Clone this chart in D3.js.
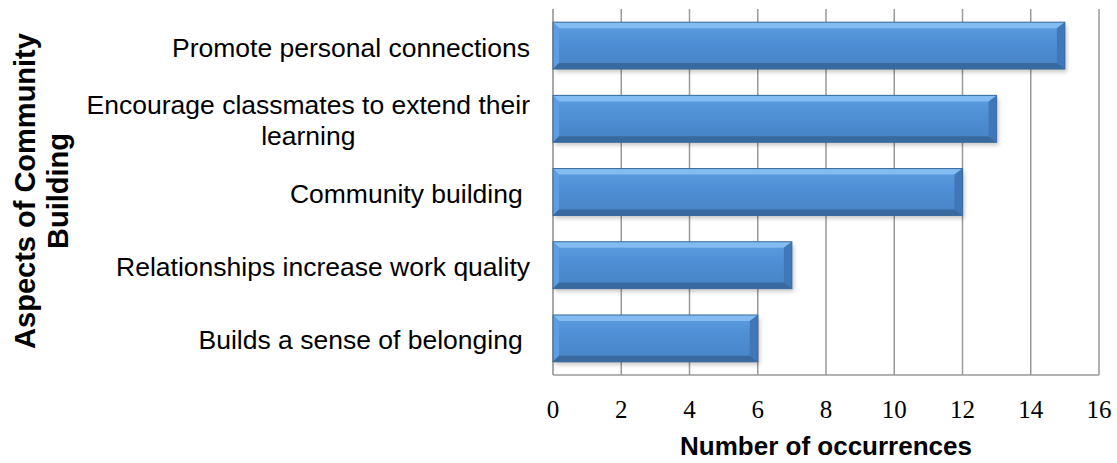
<!DOCTYPE html>
<html>
<head>
<meta charset="utf-8">
<script src="https://cdn.jsdelivr.net/npm/d3@7"></script>
<style>
  body { margin: 0; background: #fff; }
  svg { display: block; }
</style>
</head>
<body>
<svg id="chart" width="1117" height="463"></svg>
<script>
// categories top to bottom, and their counts
const categories = [
  "Promote personal connections",
  "Encourage classmates to extend their|learning",
  "Community building ",
  "Relationships increase work quality",
  "Builds a sense of belonging "
];
const counts = [15, 13, 12, 7, 6];
const xTicks = [0, 2, 4, 6, 8, 10, 12, 14, 16];

const svg = d3.select("#chart");
const margin = { left: 553, right: 18, top: 9, bottom: 88 };
const W = 1117, H = 463;

const x = d3.scaleLinear().domain([0, 16]).range([margin.left, W - margin.right]);
const y = d3.scaleBand().domain(categories).range([margin.top, H - margin.bottom]).paddingInner(0.36).paddingOuter(0.18);

// gradient + shadow for the bevelled bars
const defs = svg.append("defs");
const grad = defs.append("linearGradient").attr("id", "barGrad").attr("x1", 0).attr("y1", 0).attr("x2", 0).attr("y2", 1);
grad.append("stop").attr("offset", "0%").attr("stop-color", "#5d9de0");
grad.append("stop").attr("offset", "40%").attr("stop-color", "#4f8fd5");
grad.append("stop").attr("offset", "100%").attr("stop-color", "#4783c6");
const blur = defs.append("filter").attr("id", "shadow").attr("x", "-5%").attr("y", "-20%").attr("width", "110%").attr("height", "150%");
blur.append("feGaussianBlur").attr("stdDeviation", 2);

// gridlines
svg.append("g")
  .selectAll("line")
  .data(xTicks.slice(1))
  .join("line")
  .attr("x1", d => x(d)).attr("x2", d => x(d))
  .attr("y1", margin.top).attr("y2", H - margin.bottom)
  .attr("stroke", "#9a9a9a").attr("stroke-width", 1.5);

// axis lines
svg.append("line")
  .attr("x1", x(0)).attr("x2", x(0))
  .attr("y1", margin.top).attr("y2", H - margin.bottom)
  .attr("stroke", "#8c8c8c").attr("stroke-width", 1.5);
svg.append("line")
  .attr("x1", x(0)).attr("x2", x(16))
  .attr("y1", H - margin.bottom).attr("y2", H - margin.bottom)
  .attr("stroke", "#9a9a9a").attr("stroke-width", 1.5);

// bars
const bars = svg.append("g").selectAll("g")
  .data(categories.map((c, i) => ({ c, v: counts[i] })))
  .join("g");

const bw = d => x(d.v) - x(0);
const bh = y.bandwidth();
const bev = 6, bevR = 8;

bars.append("rect")
  .attr("x", d => x(0) + 2).attr("y", d => y(d.c) + 3)
  .attr("width", d => bw(d)).attr("height", bh)
  .attr("fill", "#000").attr("opacity", 0.22)
  .attr("filter", "url(#shadow)");

bars.append("rect")
  .attr("x", x(0)).attr("y", d => y(d.c))
  .attr("width", bw).attr("height", bh)
  .attr("fill", "url(#barGrad)");

// top bevel (light)
bars.append("path")
  .attr("d", d => {
    const x0 = x(0), x1 = x(d.v), y0 = y(d.c);
    return `M${x0},${y0}L${x1},${y0}L${x1 - bevR},${y0 + bev}L${x0 + bev},${y0 + bev}Z`;
  })
  .attr("fill", "#82bcf0");
// left bevel
bars.append("path")
  .attr("d", d => {
    const x0 = x(0), y0 = y(d.c);
    return `M${x0},${y0}L${x0 + bev},${y0 + bev}L${x0 + bev},${y0 + bh - bev}L${x0},${y0 + bh}Z`;
  })
  .attr("fill", "#5e9de0");
// right bevel (dark)
bars.append("path")
  .attr("d", d => {
    const x1 = x(d.v), y0 = y(d.c);
    return `M${x1},${y0}L${x1},${y0 + bh}L${x1 - bevR},${y0 + bh - bev}L${x1 - bevR},${y0 + bev}Z`;
  })
  .attr("fill", "#3f77b8");
// bottom bevel (dark)
bars.append("path")
  .attr("d", d => {
    const x0 = x(0), x1 = x(d.v), y1 = y(d.c) + bh;
    return `M${x0},${y1}L${x1},${y1}L${x1 - bevR},${y1 - bev}L${x0 + bev},${y1 - bev}Z`;
  })
  .attr("fill", "#38699f");
bars.append("rect")
  .attr("x", x(0)).attr("y", d => y(d.c))
  .attr("width", bw).attr("height", bh)
  .attr("fill", "none").attr("stroke", "#3a6a9e").attr("stroke-width", 1);

// x tick labels
svg.append("g")
  .selectAll("text")
  .data(xTicks)
  .join("text")
  .attr("x", d => x(d)).attr("y", 418)
  .attr("text-anchor", "middle")
  .attr("font-family", "'Liberation Serif', 'Times New Roman', serif")
  .attr("font-size", 25)
  .attr("fill", "#000")
  .text(d => d);

// x title
svg.append("text")
  .attr("x", 826).attr("y", 455)
  .attr("text-anchor", "middle")
  .attr("font-family", "'Liberation Sans', Arial, sans-serif")
  .attr("font-weight", "bold")
  .attr("font-size", 26)
  .text("Number of occurrences");

// category labels (second line of a wrapped label is centred under the first)
const labelX = 530;
const catLabels = svg.append("g");
categories.forEach(c => {
  const lines = c.split("|");
  const cy = y(c) + bh / 2;
  const lh = 31;
  const startY = cy - (lines.length - 1) * lh / 2 + 11;
  const first = catLabels.append("text")
    .attr("x", labelX).attr("y", startY)
    .attr("text-anchor", "end")
    .attr("font-family", "'Liberation Sans', Arial, sans-serif")
    .attr("font-size", 26.5)
    .attr("xml:space", "preserve")
    .text(lines[0]);
  if (lines.length > 1) {
    const w = first.node().getComputedTextLength();
    lines.slice(1).forEach((ln, i) => {
      catLabels.append("text")
        .attr("x", labelX - w / 2).attr("y", startY + (i + 1) * lh)
        .attr("text-anchor", "middle")
        .attr("font-family", "'Liberation Sans', Arial, sans-serif")
        .attr("font-size", 26.5)
        .text(ln);
    });
  }
});

// y title
const yTitle = svg.append("text")
  .attr("transform", "translate(0,191) rotate(-90)")
  .attr("text-anchor", "middle")
  .attr("font-family", "'Liberation Sans', Arial, sans-serif")
  .attr("font-weight", "bold")
  .attr("font-size", 29);
yTitle.append("tspan").attr("x", 0).attr("y", 35).text("Aspects of Community");
yTitle.append("tspan").attr("x", 0).attr("y", 68).text("Building");
</script>
</body>
</html>
